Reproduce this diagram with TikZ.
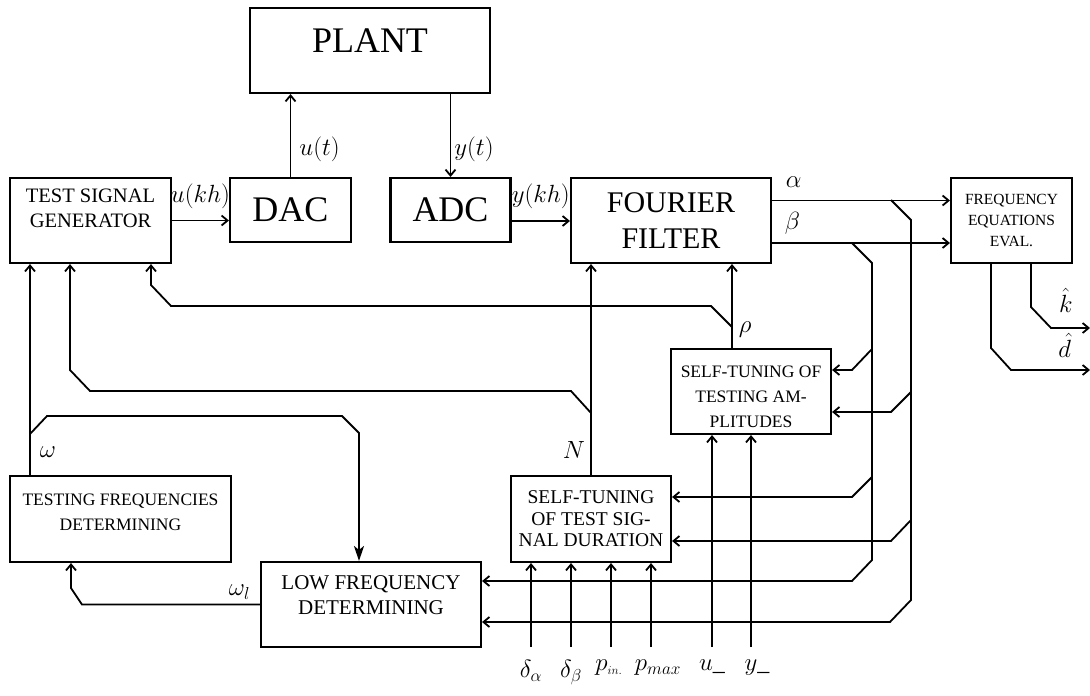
\documentclass[tikz,border=0pt]{standalone}
\usepackage{fontspec}
\setmainfont{Liberation Serif}
\usepackage{tikz}
\usetikzlibrary{arrows.meta,positioning,calc}
\tikzset{
  blockbox/.style={
    rectangle, draw=black, fill=white, line width=2.1pt,
    align=center, inner sep=0pt
  },
  sigline/.style={line width=1.8pt, color=black},
  sigarrow/.style={sigline, -{Straight Barb[length=6pt,width=10pt]}},
  bigarrow/.style={sigline, -{Stealth[length=15pt,width=10pt,inset=4pt]}},
  varlabel/.style={font=\fontsize{24}{28}\selectfont, inner sep=0pt},
}

\begin{document}
\begin{tikzpicture}[x=1pt, y=-1pt]
\path[use as bounding box, fill=white] (0,0) rectangle (1090,696);

% blocks
\node[blockbox, minimum width=240pt, minimum height=85pt, font=\fontsize{36}{43}\selectfont] (plant) at (370,50.5) {PLANT\\[-23pt]\phantom{P}};
\node[blockbox, minimum width=161pt, minimum height=85pt, font=\fontsize{20.5}{25}\selectfont] (tsg) at (90.5,220.5) {TEST SIGNAL\\GENERATOR\\\phantom{G}};
\node[blockbox, minimum width=121pt, minimum height=64pt, font=\fontsize{36}{43}\selectfont] (dac) at (290.5,210) {DAC};
\node[blockbox, minimum width=120pt, minimum height=64pt, font=\fontsize{36}{43}\selectfont] (adc) at (450.5,210) {ADC};
\node[blockbox, minimum width=200pt, minimum height=85pt, font=\fontsize{30}{36}\selectfont] (ff) at (671,220.5) {FOURIER\\FILTER};
\node[blockbox, minimum width=121pt, minimum height=85pt, font=\fontsize{15.5}{21}\selectfont] (fee) at (1011.5,220.5) {FREQUENCY\\EQUATIONS\\EVAL.};
\node[blockbox, minimum width=160pt, minimum height=85pt, font=\fontsize{17.5}{25}\selectfont] (stta) at (751,391.5) {\phantom{S}\\[-14pt]SELF-TUNING OF\\TESTING AM-\\PLITUDES};
\node[blockbox, minimum width=160pt, minimum height=86pt, font=\fontsize{19.5}{21.5}\selectfont] (sttsd) at (591,519) {SELF-TUNING\\OF TEST SIG-\\NAL DURATION};
\node[blockbox, minimum width=221pt, minimum height=86pt, font=\fontsize{17.5}{25}\selectfont] (tfd) at (120.5,519) {TESTING FREQUENCIES\\DETERMINING\\[-12pt]\phantom{D}};
\node[blockbox, minimum width=220pt, minimum height=85pt, font=\fontsize{21}{25}\selectfont] (lfd) at (371,604.5) {LOW FREQUENCY\\DETERMINING\\[-7pt]\phantom{D}};

% plant loop
\draw[sigarrow] (tsg.east) -- (tsg.east -| dac.west)
  node[varlabel, midway, above=11pt] {$u(kh)$};
\draw[sigarrow] (dac.north) -- node[varlabel, pos=0.33, right=8pt] {$u(t)$} (dac.north |- plant.south);
\draw[sigarrow] (adc.north |- plant.south) -- node[varlabel, pos=0.67, right=3pt] {$y(t)$} (adc.north);
\draw[sigarrow] ([yshift=-11pt]adc.east) -- ([yshift=-11pt]adc.east -| ff.west)
  node[varlabel, midway, above=11pt] {$y(kh)$};

% alpha, beta
\draw[sigarrow] ([yshift=20pt]ff.east) -- ([yshift=20pt]fee.west)
  node[varlabel, pos=0, anchor=south west, xshift=13pt, yshift=12pt] {$\alpha$};
\draw[sigarrow] ([yshift=-22.5pt]ff.east) -- ([yshift=-22.5pt]fee.west)
  node[varlabel, pos=0, anchor=south west, xshift=12pt, yshift=8pt] {$\beta$};
\draw[sigarrow] (891,200) -- (911,220) -- (911,600) -- (890,622) -- (lfd.east |- 0,622);
\draw[sigarrow] (911,392) -- (891,412) -- (stta.east |- 0,412);
\draw[sigarrow] (911,520) -- (891,541) -- (sttsd.east |- 0,541);
\draw[sigarrow] (852,243) -- (872,263) -- (872,560) -- (852,581) -- (lfd.east |- 0,581);
\draw[sigarrow] (872,349) -- (852,370) -- (stta.east |- 0,370);
\draw[sigarrow] (872,477) -- (852,497) -- (sttsd.east |- 0,497);

% estimates
\coordinate (kout) at (1090,328);
\coordinate (dout) at (1090,370);
\draw[sigarrow] (fee.south -| 1031,0) -- (1031,307) -- (1051,328) -- (kout)
  node[varlabel, pos=0.38, above=15pt] {$\hat{k}$};
\draw[sigarrow] (fee.south -| 991,0) -- (991,348) -- (1011,370) -- (dout)
  node[varlabel, pos=0.68, above=12pt] {$\hat{d}$};

% rho and N
\draw[sigarrow] (stta.north -| 732,0) -- node[varlabel, pos=0.22, right=6pt] {$\rho$} (ff.south -| 732,0);
\draw[sigarrow] (732,327) -- (711,306) -- (171,306) -- (151,285) -- (tsg.south -| 151,0);
\draw[sigarrow] (sttsd.north) -- node[varlabel, pos=0.12, left=5pt] {$N$} (sttsd.north |- ff.south);
\draw[sigarrow] (591,413) -- (571,391) -- (90,391) -- (70,370) -- (tsg.south -| 70,0);

% omega
\draw[sigarrow] (tfd.north -| 30,0) -- node[varlabel, pos=0.108, right=9pt] {$\omega$} (tsg.south -| 30,0);
\draw[bigarrow] (30,434) -- (47,416) -- (342,416) -- (359,433) -- (lfd.north -| 359,0);
\draw[sigarrow] (lfd.west) node[varlabel, anchor=south east, xshift=-9pt, yshift=4pt] {$\omega_l$}
  -- (82,604.5) -- (71,588) -- (tfd.south -| 71,0);

% inputs
\coordinate (in1) at (531,647);
\coordinate (in2) at (571,647);
\coordinate (in3) at (611,647);
\coordinate (in4) at (651,647);
\coordinate (in5) at (712,647);
\coordinate (in6) at (751,647);
\draw[sigarrow] (in1) -- (in1 |- sttsd.south);
\draw[sigarrow] (in2) -- (in2 |- sttsd.south);
\draw[sigarrow] (in3) -- (in3 |- sttsd.south);
\draw[sigarrow] (in4) -- (in4 |- sttsd.south);
\draw[sigarrow] (in5) -- (in5 |- stta.south);
\draw[sigarrow] (in6) -- (in6 |- stta.south);
\node[varlabel, below=13pt of in1] (lda) {$\delta_\alpha$};
\node[varlabel, below=13pt of in2] (ldb) {$\delta_\beta$};
\node[varlabel, below=13pt of in3, xshift=-2pt] (lpin) {$p_{\scriptscriptstyle in.}$};
\node[varlabel, below=13pt of in4, xshift=7pt] (lpmax) {$p_{max}$};
\node[varlabel, below=13pt of in5] (lu) {$u\_$};
\node[varlabel, below=13pt of in6, xshift=6pt] (ly) {$y\_$};
\end{tikzpicture}
\end{document}
